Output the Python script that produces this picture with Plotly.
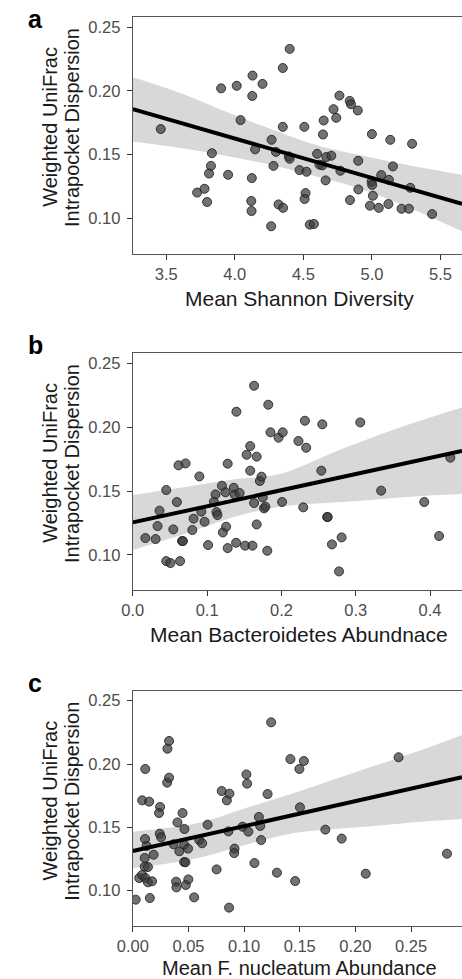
import numpy as np
import plotly.graph_objects as go

# ---------------- data ----------------
shannon = [3.46, 3.90, 4.014, 4.129, 4.202, 4.127, 4.35, 4.40, 4.042, 3.833, 3.826, 3.812, 3.951, 3.725,
           3.779, 3.798, 4.124, 4.12, 4.122, 4.148, 4.268, 4.30, 4.282, 4.35, 4.394, 4.40, 4.319, 4.352,
           4.265, 4.507, 4.472, 4.523, 4.516, 4.509, 4.547, 4.577, 4.60, 4.617, 4.638, 4.667, 4.704, 4.662,
           4.643, 4.648, 4.72, 4.74, 4.763, 4.77, 4.838, 4.847, 4.897, 4.90, 4.901, 4.84, 5.0, 4.998, 5.002,
           5.007, 4.986, 5.05, 5.068, 5.124, 5.134, 5.153, 5.12, 5.216, 5.27, 5.28, 5.293, 5.439]
disp_a = [0.170, 0.202, 0.204, 0.212, 0.2055, 0.196, 0.218, 0.233, 0.177, 0.151, 0.141, 0.135, 0.134, 0.120,
          0.123, 0.1126, 0.1314, 0.1134, 0.1055, 0.154, 0.1615, 0.152, 0.141, 0.1717, 0.1484, 0.1466, 0.1107,
          0.108, 0.0935, 0.1717, 0.1377, 0.1364, 0.1196, 0.115, 0.0948, 0.0953, 0.1505, 0.142, 0.1414, 0.148,
          0.149, 0.1296, 0.1657, 0.1767, 0.1856, 0.1788, 0.1963, 0.1372, 0.1921, 0.1895, 0.1846, 0.145, 0.1225,
          0.1141, 0.166, 0.1285, 0.126, 0.1175, 0.1097, 0.108, 0.1338, 0.130, 0.1615, 0.1406, 0.111, 0.1073,
          0.1073, 0.1238, 0.1584, 0.1031]

bacteroidetes = [0.0169, 0.0307, 0.0333, 0.0359, 0.045, 0.045, 0.0506, 0.0636, 0.0545, 0.0593, 0.0615, 0.071,
                 0.0662, 0.0675, 0.0801, 0.0818, 0.0896, 0.0922, 0.0965, 0.1013, 0.1091, 0.1113, 0.1126, 0.1139,
                 0.1199, 0.1212, 0.1247, 0.1255, 0.1277, 0.1277, 0.1359, 0.1372, 0.1437, 0.1394, 0.139, 0.1511,
                 0.1532, 0.158, 0.158, 0.161, 0.1632, 0.1632, 0.1667, 0.1667, 0.171, 0.1732, 0.1749, 0.1766,
                 0.1784, 0.181, 0.1823, 0.1853, 0.1961, 0.2017, 0.2009, 0.2229, 0.2294, 0.2316, 0.2333, 0.2537,
                 0.255, 0.2615, 0.2623, 0.268, 0.281, 0.2775, 0.3061, 0.3342, 0.3922, 0.4121, 0.4273]
disp_b = [0.1131, 0.1123, 0.1225, 0.1346, 0.1508, 0.095, 0.0935, 0.095, 0.1199, 0.1414, 0.1702, 0.1717, 0.1107,
          0.1107, 0.1194, 0.1283, 0.1615, 0.1338, 0.1259, 0.1076, 0.1416, 0.1474, 0.1335, 0.1312, 0.1542, 0.1175,
          0.149, 0.122, 0.1715, 0.1052, 0.1526, 0.1471, 0.1484, 0.2123, 0.1094, 0.1071, 0.1785, 0.1853, 0.166,
          0.1071, 0.2327, 0.1406, 0.177, 0.1238, 0.1579, 0.1613, 0.145, 0.1364, 0.1377, 0.1031, 0.2178, 0.1961,
          0.1919, 0.1961, 0.1414, 0.1893, 0.1372, 0.2052, 0.184, 0.166, 0.2024, 0.1296, 0.1296, 0.1081, 0.1136,
          0.0869, 0.2039, 0.1503, 0.1414, 0.1147, 0.1762]

fnucleatum = [0.0026, 0.0058, 0.0084, 0.0107, 0.0136, 0.0107, 0.0112, 0.0136, 0.0173, 0.0153, 0.0110, 0.0124,
              0.0187, 0.0084, 0.0147, 0.0112, 0.0245, 0.0236, 0.0242, 0.0254, 0.0309, 0.0326, 0.0311, 0.0326,
              0.0401, 0.0366, 0.0418, 0.0447, 0.0464, 0.0461, 0.0496, 0.0461, 0.0473, 0.0389, 0.0392, 0.0476,
              0.0499, 0.0551, 0.0597, 0.0623, 0.0672, 0.0753, 0.0799, 0.0845, 0.0868, 0.0859, 0.0914, 0.0911,
              0.0865, 0.0986, 0.1021, 0.1027, 0.1038, 0.1093, 0.1133, 0.1145, 0.1153, 0.1211, 0.1243, 0.1295,
              0.1416, 0.1459, 0.1497, 0.1537, 0.1502, 0.1730, 0.1877, 0.2093, 0.2388, 0.2823]
disp_c = [0.0929, 0.1100, 0.1124, 0.1189, 0.1187, 0.1258, 0.1100, 0.1066, 0.1074, 0.0942, 0.1408, 0.1353, 0.1284,
          0.1713, 0.1703, 0.1961, 0.1661, 0.1613, 0.1450, 0.1421, 0.1853, 0.1892, 0.2121, 0.2182, 0.1539, 0.1366,
          0.1311, 0.1613, 0.1487, 0.1363, 0.1332, 0.1226, 0.1224, 0.1071, 0.1026, 0.1045, 0.1089, 0.0947, 0.1400,
          0.1374, 0.1521, 0.1168, 0.1787, 0.1713, 0.1766, 0.1468, 0.1332, 0.1297, 0.0866, 0.1505, 0.1918, 0.1845,
          0.1466, 0.1218, 0.1582, 0.1511, 0.1400, 0.1763, 0.2329, 0.1142, 0.2039, 0.1076, 0.1961, 0.2024, 0.1658,
          0.1482, 0.1411, 0.1134, 0.2053, 0.1292]

# fitted lines (end points) and 95% confidence bands
fit_a_x = [3.256, 5.657]
fit_a_y = [0.1856, 0.1112]
band_a_x = [3.256, 3.608, 3.960, 4.313, 4.547, 4.899, 5.251, 5.657]
band_a_hi = [0.2108, 0.1982, 0.1825, 0.1680, 0.1589, 0.1497, 0.1419, 0.1340]
band_a_lo = [0.1602, 0.1550, 0.1484, 0.1405, 0.1340, 0.1236, 0.1091, 0.0895]

fit_b_x = [0.0, 0.443]
fit_b_y = [0.1254, 0.1814]
band_b_x = [0.0, 0.0723, 0.1372, 0.1978, 0.2887, 0.3753, 0.443]
band_b_hi = [0.1469, 0.1534, 0.1592, 0.1634, 0.1848, 0.2031, 0.2157]
band_b_lo = [0.1037, 0.1168, 0.1298, 0.1377, 0.1416, 0.1456, 0.1476]

fit_c_x = [0.0, 0.2958]
fit_c_y = [0.1313, 0.1895]
band_c_x = [0.0, 0.0577, 0.1009, 0.1442, 0.2018, 0.2595, 0.2958]
band_c_hi = [0.1466, 0.1532, 0.1651, 0.1769, 0.1940, 0.2111, 0.2229]
band_c_lo = [0.1177, 0.1256, 0.1361, 0.1453, 0.1500, 0.1545, 0.1566]

panel_letters = ["a", "b", "c"]
x_titles = ["Mean Shannon Diversity", "Mean Bacteroidetes Abundnace", "Mean F. nucleatum Abundance"]
y_title_lines = ["Weighted UniFrac", "Intrapocket Dispersion"]
y_ticks = [0.10, 0.15, 0.20, 0.25]
x_ticks_a = [3.5, 4.0, 4.5, 5.0, 5.5]
x_ticks_b = [0.0, 0.1, 0.2, 0.3, 0.4]
x_ticks_c = [0.00, 0.05, 0.10, 0.15, 0.20, 0.25]

# ---------------- layout geometry (pixels) ----------------
W, H = 462, 979
FONT = "Liberation Sans, Arial, Helvetica, sans-serif"
panels = [
    dict(x=shannon, y=disp_a, fx=fit_a_x, fy=fit_a_y, bx=band_a_x, bhi=band_a_hi, blo=band_a_lo,
         xr=[3.256, 5.657], yr=[0.0717, 0.2581], top=17, bot=254, xt=x_ticks_a, xfmt=".1f", letter_base=27),
    dict(x=bacteroidetes, y=disp_b, fx=fit_b_x, fy=fit_b_y, bx=band_b_x, bhi=band_b_hi, blo=band_b_lo,
         xr=[0.0, 0.443], yr=[0.0723, 0.2584], top=353, bot=590, xt=x_ticks_b, xfmt=".1f", letter_base=353),
    dict(x=fnucleatum, y=disp_c, fx=fit_c_x, fy=fit_c_y, bx=band_c_x, bhi=band_c_hi, blo=band_c_lo,
         xr=[0.0, 0.2958], yr=[0.0721, 0.2579], top=690.7, bot=926, xt=x_ticks_c, xfmt=".2f", letter_base=691),
]
LEFT = 121


def px_x(p):
    return p / W


def px_y(p):
    return 1 - p / H


fig = go.Figure()
annotations = []
for i, p in enumerate(panels):
    k = "" if i == 0 else str(i + 1)
    xa, ya = "x" + k, "y" + k
    # confidence band
    fig.add_trace(go.Scatter(x=p["bx"], y=p["bhi"], mode="lines", line=dict(width=0, shape="spline"),
                             hoverinfo="skip", showlegend=False, xaxis=xa, yaxis=ya))
    fig.add_trace(go.Scatter(x=p["bx"], y=p["blo"], mode="lines", line=dict(width=0, shape="spline"),
                             fill="tonexty", fillcolor="rgb(216,216,216)",
                             hoverinfo="skip", showlegend=False, xaxis=xa, yaxis=ya))
    # points
    fig.add_trace(go.Scatter(x=p["x"], y=p["y"], mode="markers",
                             marker=dict(size=9, color="rgba(60,60,60,0.72)",
                                         line=dict(color="rgba(30,30,30,0.85)", width=1)),
                             showlegend=False, xaxis=xa, yaxis=ya))
    # regression line
    fig.add_trace(go.Scatter(x=p["fx"], y=p["fy"], mode="lines", line=dict(color="black", width=4),
                             showlegend=False, xaxis=xa, yaxis=ya))

    axis_common = dict(showline=True, linecolor="#555555", linewidth=1.3, ticks="outside", ticklen=5,
                       tickwidth=1.3, tickcolor="#333333", showgrid=False, zeroline=False,
                       tickfont=dict(family=FONT, size=16.5, color="#4d4d4d"))
    fig.update_layout(**{
        "xaxis" + k: dict(domain=[px_x(LEFT), 1], range=p["xr"], anchor=ya, tickvals=p["xt"],
                          tickformat=p["xfmt"], mirror=True, ticklabelstandoff=0, **axis_common),
        "yaxis" + k: dict(domain=[px_y(p["bot"]), px_y(p["top"])], range=p["yr"], anchor=xa,
                          tickvals=y_ticks, tickformat=".2f", mirror=False, ticklabelstandoff=3,
                          **axis_common),
    })
    # panel letter
    annotations.append(dict(text="<b>" + panel_letters[i] + "</b>", xref="paper", yref="paper",
                            x=px_x(12), y=px_y(p["letter_base"] - 8), xanchor="left", yanchor="middle",
                            showarrow=False, borderpad=0, borderwidth=0,
                            font=dict(family=FONT, size=25, color="black")))
    # x title: box bottom kept inside the page
    title_bottom = min(p["bot"] + 56, H)
    title_size = 21 if p["bot"] + 56 <= H else 20
    annotations.append(dict(text=x_titles[i], xref="paper", yref="paper",
                            x=px_x(293.5), y=px_y(title_bottom), xanchor="center", yanchor="bottom",
                            showarrow=False, borderpad=0, borderwidth=0,
                            font=dict(family=FONT, size=title_size, color="#1a1a1a")))
    # y title (two lines)
    yc = (p["top"] - 17) + 127
    for j, xc in enumerate([35, 58]):
        annotations.append(dict(text=y_title_lines[j], xref="paper", yref="paper",
                                x=px_x(xc), y=px_y(yc), xanchor="center", yanchor="middle",
                                textangle=-90, showarrow=False, borderpad=0, borderwidth=0,
                                font=dict(family=FONT, size=20, color="#1a1a1a")))

fig.update_layout(width=W, height=H, margin=dict(l=0, r=0, t=0, b=0),
                  paper_bgcolor="white", plot_bgcolor="white", annotations=annotations,
                  font=dict(family=FONT))
fig.write_html("out.html", config={"displayModeBar": False})
